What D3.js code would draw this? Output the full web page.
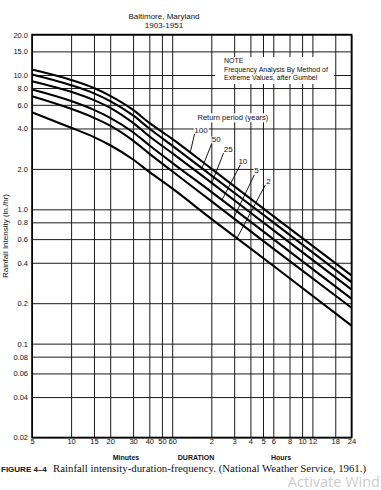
<!DOCTYPE html>
<html><head><meta charset="utf-8">
<script src="https://cdn.jsdelivr.net/npm/d3@7/dist/d3.min.js"></script>
<style>body{margin:0;background:#fff;overflow:hidden}</style>
</head><body>
<svg id="c" width="381" height="490"></svg>
<script>
// ---- data (in./hr) ----
const durations = [5, 10, 15, 20, 30, 40, 60, 120, 360, 1440]; // minutes
const returnPeriods = [2, 5, 10, 25, 50, 100];
const rp2   = [5.27, 4.05, 3.45, 3.00, 2.35, 1.90, 1.43, 0.85, 0.38, 0.136];
const rp5   = [6.95, 5.60, 4.80, 4.20, 3.25, 2.60, 1.92, 1.15, 0.51, 0.185];
const rp10  = [7.80, 6.40, 5.50, 4.80, 3.75, 3.00, 2.22, 1.35, 0.60, 0.216];
const rp25  = [9.00, 7.50, 6.50, 5.70, 4.40, 3.50, 2.62, 1.58, 0.70, 0.253];
const rp50  = [10.1, 8.40, 7.30, 6.40, 5.00, 4.00, 2.98, 1.79, 0.80, 0.287];
const rp100 = [11.0, 9.20, 8.00, 7.00, 5.50, 4.40, 3.35, 2.01, 0.89, 0.322];
const series = [rp2, rp5, rp10, rp25, rp50, rp100];

const yTicks = [20, 15, 10, 8, 6, 4, 2, 1, 0.8, 0.6, 0.4, 0.2, 0.1, 0.08, 0.06, 0.04, 0.02];
const yTickLabels = ["20.0","15.0","10.0","8.0","6.0","4.0","2.0","1.0","0.8","0.6","0.4","0.2","0.1","0.08","0.06","0.04","0.02"];
const xTicks = [5, 10, 15, 20, 30, 40, 50, 60, 120, 180, 240, 300, 360, 480, 600, 720, 1080, 1440];
const xTickLabels = ["5","10","15","20","30","40","50","60","2","3","4","5","6","8","10","12","18","24"];

// annotation anchors (data units)
const labelText = ["2", "5", "10", "25", "50", "100"];
const labelMin  = [330, 267, 210, 162, 131, 100];
const labelVal  = [1.63, 1.94, 2.30, 2.80, 3.30, 3.89];
const leaderMin = [189, 178, 145, 121, 101.7, 82.6];
const leaderOff = [[-3,4],[-2,4],[-2.5,4],[-4.7,3.8],[-4.3,3.3],[-6,1.8]];

// ---- layout ----
const L = 32, R = 351.5, T = 34.6, B = 437.5;
const svg = d3.select("#c");
const x = d3.scaleLog().domain([5, 1440]).range([L, R]);
const y = d3.scaleLog().domain([0.02, 20]).range([B, T]);
const sans = "'Liberation Sans', Arial, Helvetica, sans-serif";

// grid via axes
const gx = svg.append("g").attr("transform", `translate(0,${B})`)
  .call(d3.axisBottom(x).tickValues(xTicks)
    .tickFormat((d, i) => xTickLabels[i]).tickSize(-(B - T)).tickPadding(1.5));
gx.select(".domain").remove();
gx.selectAll("line").attr("stroke", "#1a1a1a").attr("stroke-width", 1);
gx.selectAll("text").attr("font-family", sans).attr("font-size", 7.5).attr("fill", "#111");

const gy = svg.append("g").attr("transform", `translate(${L},0)`)
  .call(d3.axisLeft(y).tickValues(yTicks)
    .tickFormat((d, i) => yTickLabels[i]).tickSize(-(R - L)).tickPadding(4));
gy.select(".domain").remove();
gy.selectAll("line").attr("stroke", "#1a1a1a").attr("stroke-width", 1);
gy.selectAll("text").attr("font-family", sans).attr("font-size", 7.5).attr("fill", "#111");

// frame
svg.append("rect").attr("x", L).attr("y", T).attr("width", R - L).attr("height", B - T)
  .attr("fill", "none").attr("stroke", "#000").attr("stroke-width", 1.6);

// note box
svg.append("rect").attr("x", 215).attr("y", 57).attr("width", 119).attr("height", 27).attr("fill", "#fff");
const note = svg.append("g").attr("font-family", sans).attr("font-size", 7).attr("fill", "#111");
note.append("text").attr("x", 224).attr("y", 62.5).text("NOTE");
note.append("text").attr("x", 224).attr("y", 71.5).text("Frequency Analysis By Method of");
note.append("text").attr("x", 224).attr("y", 80).text("Extreme Values, after Gumbel");

// curves
const line = d3.line().x((d, i) => x(durations[i])).y(d => y(d)).curve(d3.curveMonotoneX);
svg.append("g").selectAll("path").data(series).join("path")
  .attr("d", d => line(d)).attr("fill", "none").attr("stroke", "#000").attr("stroke-width", 2.1);

function curveY(s, t) {
  const px = x(t);
  for (let i = 0; i < durations.length - 1; i++) {
    if (t >= durations[i] && t <= durations[i + 1]) {
      const f = (px - x(durations[i])) / (x(durations[i + 1]) - x(durations[i]));
      return y(s[i]) + f * (y(s[i + 1]) - y(s[i]));
    }
  }
  return y(s[s.length - 1]);
}

// return period header
const hdr = svg.append("g");
const hbg = hdr.append("rect").attr("fill", "#fff");
const rpt = hdr.append("text").attr("x", 197.5).attr("y", 120.3)
  .attr("font-family", sans).attr("font-size", 7.5).attr("fill", "#111").text("Return period (years)");
const bb0 = rpt.node().getBBox();
hbg.attr("x", bb0.x - 1).attr("y", bb0.y).attr("width", bb0.width + 2).attr("height", bb0.height);

// labels + leaders
const ann = svg.append("g");
series.forEach((s, i) => {
  const lx = x(labelMin[i]), ly = y(labelVal[i]);
  const ex = x(leaderMin[i]), ey = curveY(s, leaderMin[i]);
  ann.append("line").attr("x1", lx + leaderOff[i][0]).attr("y1", ly + leaderOff[i][1])
    .attr("x2", ex).attr("y2", ey).attr("stroke", "#000").attr("stroke-width", 0.9);
  const g = ann.append("g");
  const bg = g.append("rect").attr("fill", "#fff");
  const t = g.append("text").attr("x", lx).attr("y", ly).attr("dy", "0.35em")
    .attr("text-anchor", "middle").attr("font-family", sans).attr("font-size", 8)
    .attr("fill", "#111").text(labelText[i]);
  const bb = t.node().getBBox();
  bg.attr("x", bb.x - 0.5).attr("y", bb.y + 1).attr("width", bb.width + 1).attr("height", bb.height - 2);
});

// titles
const tg = svg.append("g").attr("font-family", sans).attr("font-size", 8).attr("fill", "#111").attr("text-anchor", "middle");
tg.append("text").attr("x", 164).attr("y", 19).text("Baltimore, Maryland");
tg.append("text").attr("x", 164).attr("y", 28.3).text("1903-1951");

svg.append("text").attr("transform", "translate(8,236) rotate(-90)")
  .attr("text-anchor", "middle").attr("font-family", sans).attr("font-size", 8).attr("fill", "#111")
  .text("Rainfall Intensity (in./hr)");

const xl = svg.append("g").attr("font-family", sans).attr("font-size", 7).attr("font-weight", "bold").attr("fill", "#111").attr("text-anchor", "middle");
xl.append("text").attr("x", 126).attr("y", 460).text("Minutes");
xl.append("text").attr("x", 196).attr("y", 460).text("DURATION");
xl.append("text").attr("x", 281).attr("y", 460).text("Hours");

// caption
svg.append("text").attr("x", 1).attr("y", 472).attr("font-family", sans).attr("font-weight", "bold")
  .attr("font-size", 8).attr("fill", "#111").text("FIGURE 4\u20134");
svg.append("text").attr("x", 53).attr("y", 472).attr("font-family", "'Liberation Serif', 'Times New Roman', serif")
  .attr("font-size", 10.8).attr("fill", "#111").text("Rainfall intensity-duration-frequency. (National Weather Service, 1961.)");

// watermark (cut by the window edge in the reference)
svg.append("text").attr("x", 380).attr("y", 486.5).attr("text-anchor", "end").attr("font-family", "'Open Sans', 'Noto Sans', sans-serif")
  .attr("font-size", 14.5).attr("fill", "#bdbdbd").attr("fill-opacity", 0.8).text("Activate Wind");
</script>
</body></html>
